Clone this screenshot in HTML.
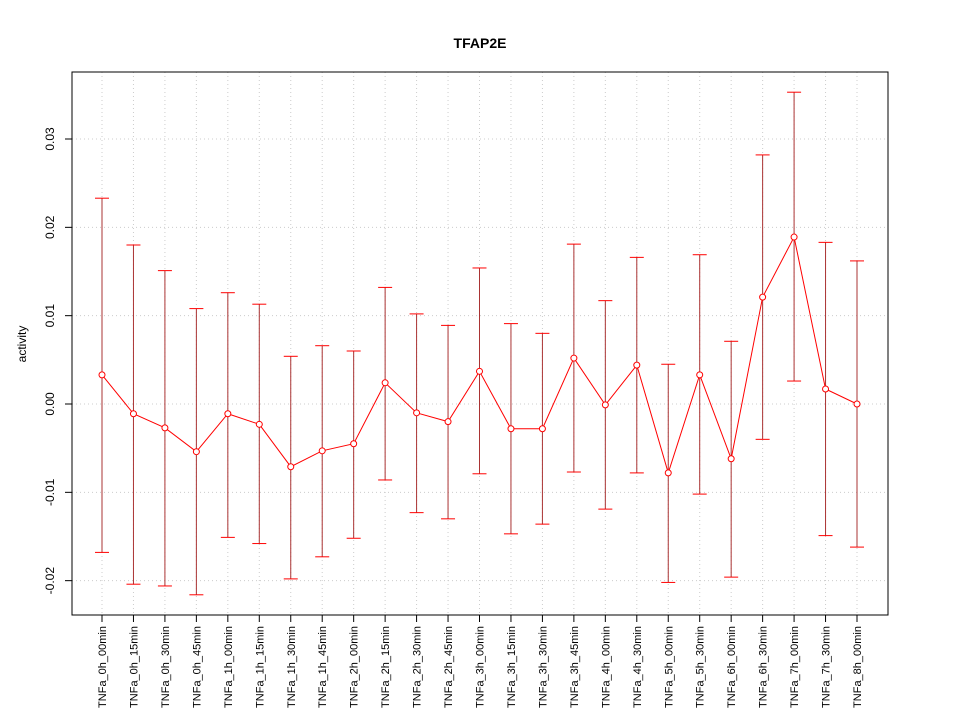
<!DOCTYPE html>
<html><head><meta charset="utf-8"><style>body{margin:0;background:#fff}svg{display:block;font-family:"Liberation Sans",sans-serif}</style></head>
<body>
<svg id="chart" width="960" height="720" xmlns="http://www.w3.org/2000/svg">
<text x="480" y="48" text-anchor="middle" font-size="14" font-weight="bold">TFAP2E</text>
<text transform="translate(26,344) rotate(-90)" text-anchor="middle" font-size="12">activity</text>
<g id="grid"></g><g id="marks"></g><g id="axes"></g>
<rect x="72" y="72" width="816" height="543" fill="none" stroke="#000"/>
</svg>
<script>
const categories=["TNFa_0h_00min","TNFa_0h_15min","TNFa_0h_30min","TNFa_0h_45min","TNFa_1h_00min","TNFa_1h_15min","TNFa_1h_30min","TNFa_1h_45min","TNFa_2h_00min","TNFa_2h_15min","TNFa_2h_30min","TNFa_2h_45min","TNFa_3h_00min","TNFa_3h_15min","TNFa_3h_30min","TNFa_3h_45min","TNFa_4h_00min","TNFa_4h_30min","TNFa_5h_00min","TNFa_5h_30min","TNFa_6h_00min","TNFa_6h_30min","TNFa_7h_00min","TNFa_7h_30min","TNFa_8h_00min"];
const means=[0.0033,-0.0011,-0.0027,-0.0054,-0.0011,-0.0023,-0.0071,-0.0053,-0.0045,0.0024,-0.001,-0.002,0.0037,-0.0028,-0.0028,0.0052,-0.0001,0.0044,-0.0078,0.0033,-0.0062,0.0121,0.0189,0.0017,0.0];
const upper=[0.0233,0.018,0.0151,0.0108,0.0126,0.0113,0.0054,0.0066,0.006,0.0132,0.0102,0.0089,0.0154,0.0091,0.008,0.0181,0.0117,0.0166,0.0045,0.0169,0.0071,0.0282,0.0353,0.0183,0.0162];
const lower=[-0.0168,-0.0204,-0.0206,-0.0216,-0.0151,-0.0158,-0.0198,-0.0173,-0.0152,-0.0086,-0.0123,-0.013,-0.0079,-0.0147,-0.0136,-0.0077,-0.0119,-0.0078,-0.0202,-0.0102,-0.0196,-0.004,0.0026,-0.0149,-0.0162];
const yTicks=[-0.02,-0.01,0,0.01,0.02,0.03];
const yTickLabels=["-0.02","-0.01","0.00","0.01","0.02","0.03"];
const NS="http://www.w3.org/2000/svg";
const x=i=>102+i*(857-102)/(categories.length-1);
const y=v=>404-v*8833;
function mk(p,t,a){const e=document.createElementNS(NS,t);for(const k in a)e.setAttribute(k,a[k]);document.getElementById(p).appendChild(e);return e;}
yTicks.forEach((v,i)=>{
 const g=mk('grid','line',{x1:72,x2:888,y1:y(v),y2:y(v),stroke:'#ccc','stroke-dasharray':'1,3'});
 
 
 const t=mk('axes','line',{x1:65,x2:72,y1:y(v),y2:y(v),stroke:'#000'});
 
 
 const l=mk('axes','text',{transform:`translate(54,${y(v)}) rotate(-90)`,'text-anchor':'middle','font-size':12});
 l.textContent=yTickLabels[i];
 
 
});
categories.forEach((c,i)=>{
 const g=mk('grid','line',{x1:x(i),x2:x(i),y1:72,y2:615,stroke:'#ccc','stroke-dasharray':'1,3'});
 
 
 const t=mk('axes','line',{x1:x(i),x2:x(i),y1:615,y2:622,stroke:'#000'});
 
 
 const l=mk('axes','text',{transform:`translate(${x(i)+4},626) rotate(-90)`,'text-anchor':'end','font-size':11});
 l.textContent=c;
 
 
 const b=mk('marks','line',{x1:x(i),x2:x(i),y1:y(upper[i]),y2:y(lower[i]),stroke:'#a33'});
 
 
 [upper[i],lower[i]].forEach(v=>{
  const cap=mk('marks','line',{x1:x(i)-7,x2:x(i)+7,y1:y(v),y2:y(v),stroke:'#f00'});
  
  
 });
});
const pl=mk('marks','polyline',{points:means.map((v,i)=>x(i)+','+y(v)).join(' '),fill:'none',stroke:'#f00'});


means.forEach((v,i)=>{
 const c=mk('marks','circle',{cx:x(i),cy:y(v),r:3,fill:'#fff',stroke:'#f00'});
 
 
});
</script>
</body></html>
